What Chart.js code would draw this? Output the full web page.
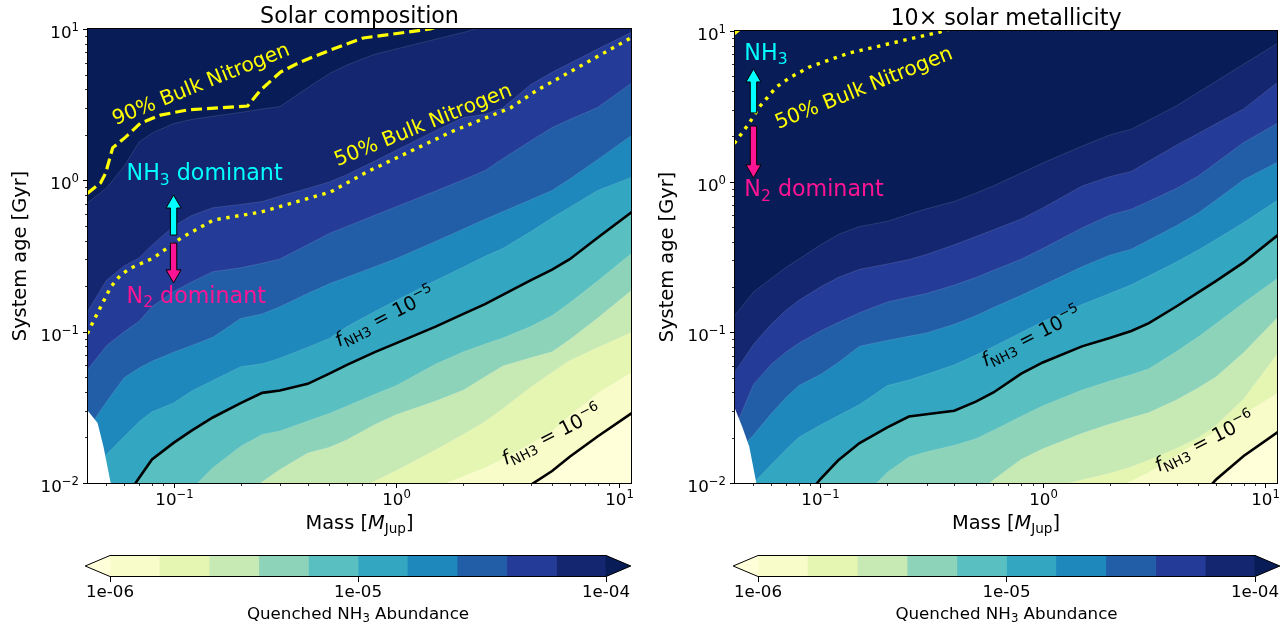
<!DOCTYPE html>
<html>
<head>
<meta charset="utf-8">
<title>Quenched NH3 abundance</title>
<script src="https://cdn.jsdelivr.net/npm/chart.js"></script>
<style>
  body { margin: 0; background: #fff; }
  #fig { position: relative; width: 1288px; height: 626px; overflow: hidden; }
  #fig canvas { position: absolute; }
</style>
</head>
<body>
<div id="fig">
  <canvas id="solar" width="644" height="540" style="left:0;top:0"></canvas>
  <canvas id="metal" width="644" height="540" style="left:644px;top:0"></canvas>
  <canvas id="solarBar" width="644" height="86" style="left:0;top:540px"></canvas>
  <canvas id="metalBar" width="644" height="86" style="left:644px;top:540px"></canvas>
</div>
<script>
/* =====================
   DATA
===================== */
// planet mass [M_Jup] shared by every contour trace
const massGrid = [0.041, 0.05, 0.06, 0.07, 0.08, 0.1, 0.12, 0.15, 0.2, 0.25, 0.3, 0.4, 0.5, 0.6, 0.8, 1, 1.5, 2, 2.5, 3, 4, 5, 6, 8, 11.4];

// quenched NH3 abundance of each contour
const levels = [1e-6, 1.58e-6, 2.51e-6, 3.98e-6, 6.31e-6, 1e-5, 1.58e-5, 2.51e-5, 3.98e-5, 6.31e-5, 1e-4];

// system age [Gyr] where the abundance hits each level, solar composition
const solarF60 = [0.0001, 0.0001, 0.0001, 0.0001, 0.0001, 0.0001, 0.0002, 0.0002, 0.0002, 0.0003, 0.0003, 0.0004, 0.0005, 0.0006, 0.0008, 0.001, 0.0015, 0.002, 0.003, 0.005, 0.0097, 0.012, 0.0149, 0.0203, 0.029];
const solarF58 = [0.0002, 0.0002, 0.0002, 0.0003, 0.0003, 0.0003, 0.0004, 0.0005, 0.0006, 0.0008, 0.001, 0.0013, 0.0017, 0.0022, 0.003, 0.004, 0.0094, 0.0111, 0.0126, 0.0144, 0.0181, 0.0221, 0.0279, 0.0392, 0.054];
const solarF56 = [0.0005, 0.0006, 0.0007, 0.0008, 0.0009, 0.001, 0.0012, 0.0015, 0.002, 0.0025, 0.003, 0.0045, 0.0065, 0.0082, 0.0103, 0.0121, 0.0166, 0.021, 0.0255, 0.031, 0.043, 0.0539, 0.0646, 0.0785, 0.0994];
const solarF54 = [0.001, 0.0012, 0.0015, 0.002, 0.0025, 0.0033, 0.0045, 0.006, 0.0081, 0.0102, 0.0123, 0.0158, 0.0172, 0.0193, 0.0244, 0.0284, 0.0348, 0.0411, 0.0504, 0.0594, 0.0673, 0.0737, 0.0888, 0.123, 0.188];
const solarF52 = [0.0019, 0.0025, 0.0032, 0.0041, 0.005, 0.0069, 0.0091, 0.0126, 0.0175, 0.0209, 0.0221, 0.0257, 0.0288, 0.0323, 0.0386, 0.0441, 0.0611, 0.0737, 0.0829, 0.0908, 0.108, 0.128, 0.155, 0.216, 0.331];
const solarF50 = [0.0036, 0.0053, 0.0077, 0.0108, 0.0143, 0.0184, 0.0221, 0.0271, 0.0337, 0.0394, 0.0408, 0.0452, 0.0528, 0.0603, 0.0732, 0.084, 0.108, 0.131, 0.152, 0.175, 0.218, 0.257, 0.301, 0.418, 0.617];
const solarF48 = [0.0105, 0.0155, 0.0203, 0.0254, 0.0296, 0.0338, 0.0404, 0.0476, 0.0587, 0.0614, 0.0668, 0.079, 0.0902, 0.108, 0.136, 0.161, 0.218, 0.268, 0.315, 0.355, 0.457, 0.566, 0.665, 0.857, 1.05];
const solarF46 = [0.0224, 0.0344, 0.0496, 0.0575, 0.0637, 0.0731, 0.0808, 0.0917, 0.122, 0.131, 0.146, 0.179, 0.207, 0.229, 0.269, 0.304, 0.395, 0.477, 0.553, 0.62, 0.745, 0.857, 1.02, 1.37, 1.99];
const solarF44 = [0.0557, 0.0808, 0.0997, 0.117, 0.146, 0.184, 0.212, 0.249, 0.264, 0.283, 0.302, 0.375, 0.446, 0.496, 0.588, 0.67, 0.85, 1.01, 1.16, 1.39, 1.82, 2.23, 2.52, 3.03, 4.4];
const solarF42 = [0.135, 0.219, 0.272, 0.307, 0.373, 0.497, 0.584, 0.659, 0.693, 0.724, 0.785, 0.884, 0.975, 1.09, 1.34, 1.58, 2.13, 2.6, 2.73, 3.01, 4.28, 5.17, 5.93, 7.37, 9.54];
const solarF40 = [0.708, 0.889, 1.24, 1.79, 2.05, 2.37, 2.52, 2.65, 2.81, 2.96, 3.07, 4.09, 5.07, 5.78, 6.81, 7.39, 8.56, 9.49, 10.4, 11.4, 13, 15, 17, 20, 25];

// same, 10x solar metallicity
const metalF60 = [0.0001, 0.0001, 0.0001, 0.0001, 0.0001, 0.0001, 0.0001, 0.0002, 0.0002, 0.0002, 0.0003, 0.0003, 0.0004, 0.0005, 0.0006, 0.0008, 0.001, 0.0015, 0.002, 0.003, 0.005, 0.0078, 0.0105, 0.0151, 0.0218];
const metalF58 = [0.0002, 0.0002, 0.0003, 0.0003, 0.0003, 0.0004, 0.0005, 0.0006, 0.0007, 0.0009, 0.0011, 0.0014, 0.0018, 0.0022, 0.0028, 0.0035, 0.0055, 0.0089, 0.0103, 0.0118, 0.0152, 0.0188, 0.022, 0.0287, 0.0396];
const metalF56 = [0.0004, 0.0005, 0.0006, 0.0007, 0.0007, 0.0009, 0.0011, 0.0014, 0.0018, 0.0022, 0.0027, 0.0035, 0.0045, 0.0055, 0.007, 0.009, 0.0105, 0.0116, 0.0128, 0.0142, 0.017, 0.02, 0.0241, 0.0363, 0.0727];
const metalF54 = [0.0006, 0.0007, 0.0008, 0.0009, 0.001, 0.0013, 0.0016, 0.002, 0.0028, 0.0035, 0.0045, 0.006, 0.0083, 0.0105, 0.0144, 0.0169, 0.0214, 0.0246, 0.0272, 0.0294, 0.0357, 0.0428, 0.0506, 0.0735, 0.126];
const metalF52 = [0.0013, 0.0017, 0.0021, 0.0026, 0.0031, 0.0042, 0.0056, 0.0077, 0.0118, 0.0149, 0.0161, 0.0178, 0.0197, 0.0224, 0.0277, 0.0326, 0.0414, 0.0475, 0.0524, 0.0574, 0.0748, 0.0934, 0.114, 0.157, 0.229];
const metalF50 = [0.0023, 0.0031, 0.0043, 0.0057, 0.0072, 0.0106, 0.0141, 0.0184, 0.0234, 0.0276, 0.0286, 0.0302, 0.0347, 0.0399, 0.0532, 0.0631, 0.0807, 0.0917, 0.102, 0.115, 0.149, 0.184, 0.219, 0.291, 0.442];
const metalF48 = [0.0066, 0.01, 0.0132, 0.0167, 0.0201, 0.0243, 0.0279, 0.0332, 0.0443, 0.0483, 0.0526, 0.0609, 0.0707, 0.0805, 0.0998, 0.118, 0.153, 0.181, 0.207, 0.237, 0.294, 0.352, 0.413, 0.535, 0.755];
const metalF46 = [0.0154, 0.0208, 0.0288, 0.037, 0.0443, 0.0525, 0.0629, 0.0809, 0.0884, 0.0942, 0.0991, 0.113, 0.129, 0.146, 0.176, 0.205, 0.272, 0.325, 0.356, 0.41, 0.511, 0.619, 0.754, 1.03, 1.35];
const metalF44 = [0.0225, 0.0451, 0.0612, 0.0739, 0.0847, 0.102, 0.116, 0.135, 0.159, 0.171, 0.181, 0.206, 0.231, 0.258, 0.306, 0.36, 0.493, 0.599, 0.656, 0.742, 0.904, 1.09, 1.33, 1.82, 2.45];
const metalF42 = [0.0539, 0.0831, 0.113, 0.14, 0.163, 0.2, 0.231, 0.262, 0.284, 0.304, 0.329, 0.381, 0.432, 0.479, 0.565, 0.669, 0.935, 1.08, 1.17, 1.37, 1.75, 2.09, 2.42, 3.04, 4.58];
const metalF40 = [0.128, 0.185, 0.227, 0.269, 0.306, 0.38, 0.445, 0.504, 0.545, 0.607, 0.66, 0.739, 0.839, 0.938, 1.14, 1.33, 1.72, 2.04, 2.23, 2.56, 3.19, 3.92, 4.62, 6.02, 8.31];

const solarAges = [solarF60, solarF58, solarF56, solarF54, solarF52, solarF50, solarF48, solarF46, solarF44, solarF42, solarF40];
const metalAges = [metalF60, metalF58, metalF56, metalF54, metalF52, metalF50, metalF48, metalF46, metalF44, metalF42, metalF40];

// bulk nitrogen fraction lines (mass, age)
const solar90Mass = [0.041, 0.047, 0.0496, 0.0533, 0.0609, 0.0711, 0.0874, 0.116, 0.215, 0.246, 0.302, 0.371, 0.506, 0.711, 1.42, 1.75];
const solar90Age = [0.82, 0.96, 1.12, 1.64, 1.93, 2.39, 2.7, 2.92, 3.1, 3.95, 5.2, 6.05, 7.26, 8.72, 10, 11.1];
const solar50Mass = [0.041, 0.0456, 0.0522, 0.0579, 0.0642, 0.0813, 0.108, 0.151, 0.246, 0.506, 0.741, 1.8, 3.25, 4.29, 11.4];
const solar50Age = [0.097, 0.133, 0.197, 0.237, 0.263, 0.307, 0.416, 0.547, 0.617, 0.837, 1.14, 2.12, 3.01, 3.95, 8.8];
const metal90Mass = [0.041, 0.0445];
const metal90Age = [9.6, 10.6];
const metal50Mass = [0.041, 0.0479, 0.0531, 0.0634, 0.0725, 0.0892, 0.135, 0.22, 0.344, 0.423];
const metal50Age = [1.79, 2.45, 3.13, 4.25, 4.88, 5.77, 7.15, 8.45, 9.85, 10.8];

// corner with no model data
const solarGapMass = [0.041, 0.0456, 0.0485, 0.0522, 0.0535];
const solarGapAge = [0.0303, 0.0249, 0.0173, 0.01, 0.008];
const metalGapMass = [0.041, 0.0445, 0.0479, 0.0515, 0.053];
const metalGapAge = [0.032, 0.0236, 0.0174, 0.01, 0.008];

// axes
const xTicks = [0.1, 1, 10];
const xTickExp = ['\u22121', '0', '1'];
const xMinor = [0.05, 0.06, 0.07, 0.08, 0.09, 0.2, 0.3, 0.4, 0.5, 0.6, 0.7, 0.8, 0.9, 2, 3, 4, 5, 6, 7, 8, 9];
const yTicks = [0.01, 0.1, 1, 10];
const yTickExp = ['\u22122', '\u22121', '0', '1'];
const yMinor = [0.02, 0.03, 0.04, 0.05, 0.06, 0.07, 0.08, 0.09, 0.2, 0.3, 0.4, 0.5, 0.6, 0.7, 0.8, 0.9, 2, 3, 4, 5, 6, 7, 8, 9];
const cbTicks = [1e-6, 1e-5, 1e-4];
const cbTickLabels = ['1e-06', '1e-05', '1e-04'];

/* =====================
   STYLE
===================== */
const FONT = '"DejaVu Sans"';
// YlGnBu: under, 10 bands, over
const BAND_COLORS = ['#ffffd9', '#f8fcc9', '#e5f5b2', '#c7e9b4', '#8dd3ba', '#5abfc0', '#33a7c2', '#1e87bb', '#225ea8', '#243c98', '#142670', '#081d58'];
const YELLOW = '#ffff00';
const CYAN = '#00ffff';
const PINK = '#ff1493';
const SEAM = 'rgba(255,255,255,0.2)';

Chart.defaults.font.family = FONT;

/* =====================
   TEXT + SHAPES
===================== */
function richText(ctx, parts, x, y, o) {
  const size = o.size;
  const fontOf = st => (st === 'it' ? 'italic ' : '') +
    (st === 'sub' || st === 'sup' ? size * 0.7 : size) + 'px ' + FONT;
  let w = 0;
  const widths = parts.map(p => {
    ctx.font = fontOf(p[1]);
    const pw = ctx.measureText(p[0]).width;
    w += pw;
    return pw;
  });
  ctx.save();
  ctx.translate(x, y);
  if (o.rot) ctx.rotate(o.rot * Math.PI / 180);
  ctx.fillStyle = o.color || '#000';
  ctx.textAlign = 'left';
  ctx.textBaseline = 'alphabetic';
  let cx = o.align === 'left' ? 0 : o.align === 'right' ? -w : -w / 2;
  parts.forEach((p, i) => {
    ctx.font = fontOf(p[1]);
    let dy = size * 0.365;
    if (p[1] === 'sub') dy += size * 0.2;
    if (p[1] === 'sup') dy -= size * 0.42;
    ctx.fillText(p[0], cx, dy);
    cx += widths[i];
  });
  ctx.restore();
}

function drawArrow(ctx, x, yTail, yTip, color) {
  const dir = Math.sign(yTip - yTail);
  const yBase = yTip - dir * 13;
  ctx.beginPath();
  ctx.moveTo(x - 3.2, yTail);
  ctx.lineTo(x - 3.2, yBase);
  ctx.lineTo(x - 7.5, yBase);
  ctx.lineTo(x, yTip);
  ctx.lineTo(x + 7.5, yBase);
  ctx.lineTo(x + 3.2, yBase);
  ctx.lineTo(x + 3.2, yTail);
  ctx.closePath();
  ctx.fillStyle = color;
  ctx.fill();
  ctx.lineWidth = 1;
  ctx.strokeStyle = '#000';
  ctx.stroke();
}

function seg(ctx, x0, y0, x1, y1, w) {
  ctx.lineWidth = w;
  ctx.beginPath();
  ctx.moveTo(x0, y0);
  ctx.lineTo(x1, y1);
  ctx.stroke();
}

const fLabel = k => [['f', 'it'], ['NH3', 'sub'], [' = 10'], ['\u2212' + k, 'sup']];
const NH3_DOM = [['NH'], ['3', 'sub'], [' dominant']];
const N2_DOM = [['N'], ['2', 'sub'], [' dominant']];

/* =====================
   PANELS
===================== */
function panelPlugin(deco) {
  return {
    id: 'panelDeco',
    beforeDatasetsDraw(chart) {
      const {ctx, chartArea: a} = chart;
      ctx.save();
      ctx.fillStyle = BAND_COLORS[0];
      ctx.fillRect(a.left, a.top, a.right - a.left, a.bottom - a.top);
      ctx.restore();
    },
    afterDraw(chart) {
      const {ctx, chartArea: a} = chart;
      const xs = chart.scales.x, ys = chart.scales.y;
      ctx.save();
      deco.arrows.forEach(ar => drawArrow(ctx, xs.getPixelForValue(ar.mass),
        ys.getPixelForValue(ar.from), ys.getPixelForValue(ar.to), ar.color));
      deco.labels.forEach(l => richText(ctx, l.parts,
        xs.getPixelForValue(l.mass), ys.getPixelForValue(l.age), l));

      ctx.strokeStyle = '#000';
      ctx.lineWidth = 1;
      ctx.strokeRect(a.left - 0.5, a.top - 0.5, a.right - a.left + 1, a.bottom - a.top + 1);

      xTicks.forEach((v, i) => {
        const p = Math.round(xs.getPixelForValue(v)) + 0.5;
        seg(ctx, p, a.bottom, p, a.bottom + 5, 1);
        richText(ctx, [['10'], [xTickExp[i], 'sup']], p, a.bottom + 16, {size: 16.7});
      });
      xMinor.forEach(v => {
        const p = Math.round(xs.getPixelForValue(v)) + 0.5;
        seg(ctx, p, a.bottom, p, a.bottom + 3, 0.8);
      });
      yTicks.forEach((v, i) => {
        const p = Math.round(ys.getPixelForValue(v)) + 0.5;
        seg(ctx, a.left, p, a.left - 5, p, 1);
        richText(ctx, [['10'], [yTickExp[i], 'sup']], a.left - 9, p + 2, {size: 16.7, align: 'right'});
      });
      yMinor.forEach(v => {
        const p = Math.round(ys.getPixelForValue(v)) + 0.5;
        seg(ctx, a.left, p, a.left - 3, p, 0.8);
      });

      const cx = (a.left + a.right) / 2;
      richText(ctx, deco.title, cx, a.top - 14, {size: 22.2});
      richText(ctx, [['Mass ['], ['M', 'it'], ['Jup', 'sub'], [']']], cx, a.bottom + 39, {size: 19.4});
      richText(ctx, [['System age [Gyr]']], a.left - 69, (a.top + a.bottom) / 2, {size: 19.4, rot: -90});
      ctx.restore();
    }
  };
}

const pts = (xs, ys) => xs.map((x, i) => ({x: x, y: ys[i]}));

function makePanel(id, box, ages, bulk, gap, deco) {
  const seq = [];
  ages.forEach((row, i) => seq.push({
    data: pts(massGrid, row), fill: 'end', backgroundColor: BAND_COLORS[i + 1],
    borderColor: SEAM, borderWidth: 0.6
  }));
  seq.push({data: pts(gap.mass, gap.age), fill: 'start', backgroundColor: '#ffffff', borderWidth: 0});
  [0, 5].forEach(k => seq.push({data: pts(massGrid, ages[k]), borderColor: '#000', borderWidth: 2.6}));
  bulk.forEach(b => seq.push({
    data: pts(b.mass, b.age), borderColor: YELLOW, borderWidth: b.width, borderDash: b.dash
  }));
  seq.forEach((d, i) => Object.assign(d, {
    order: seq.length - i, pointRadius: 0, tension: 0, clip: 0, fill: d.fill || false
  }));

  const canvas = document.getElementById(id);
  return new Chart(canvas, {
    type: 'line',
    data: {datasets: seq},
    options: {
      responsive: false, animation: false, events: [], devicePixelRatio: 1,
      layout: {padding: {top: box.top, right: canvas.width - box.right, left: 0, bottom: 0}},
      plugins: {legend: {display: false}, tooltip: {enabled: false}},
      scales: {
        x: {
          type: 'logarithmic', min: 0.0413, max: 11.3,
          ticks: {display: false}, grid: {display: false}, border: {display: false},
          afterFit: s => { s.height = canvas.height - box.bottom; }
        },
        y: {
          type: 'logarithmic', min: 0.01, max: 10,
          ticks: {display: false}, grid: {display: false}, border: {display: false},
          afterFit: s => { s.width = box.left; }
        }
      }
    },
    plugins: [panelPlugin(deco)]
  });
}

/* =====================
   COLORBARS
===================== */
function barPlugin() {
  return {
    id: 'barDeco',
    afterDraw(chart) {
      const {ctx, chartArea: a} = chart;
      const ext = (a.right - a.left) * 0.05;
      const mid = (a.top + a.bottom) / 2;
      ctx.save();
      ctx.beginPath();
      ctx.moveTo(a.left + 0.5, a.top);
      ctx.lineTo(a.left - ext, mid);
      ctx.lineTo(a.left + 0.5, a.bottom);
      ctx.closePath();
      ctx.fillStyle = BAND_COLORS[0];
      ctx.fill();
      ctx.beginPath();
      ctx.moveTo(a.right - 0.5, a.top);
      ctx.lineTo(a.right + ext, mid);
      ctx.lineTo(a.right - 0.5, a.bottom);
      ctx.closePath();
      ctx.fillStyle = BAND_COLORS[11];
      ctx.fill();

      ctx.beginPath();
      ctx.moveTo(a.left, a.top + 0.5);
      ctx.lineTo(a.right, a.top + 0.5);
      ctx.lineTo(a.right + ext, mid);
      ctx.lineTo(a.right, a.bottom - 0.5);
      ctx.lineTo(a.left, a.bottom - 0.5);
      ctx.lineTo(a.left - ext, mid);
      ctx.closePath();
      ctx.strokeStyle = '#000';
      ctx.lineWidth = 1;
      ctx.stroke();

      richText(ctx, [['Quenched NH'], ['3', 'sub'], [' Abundance']],
        (a.left + a.right) / 2, a.bottom + 36, {size: 16.7});
      ctx.restore();
    }
  };
}

function makeBar(id, box) {
  const canvas = document.getElementById(id);
  const sets = levels.slice(0, -1).map((lo, i) => ({
    data: [[lo, levels[i + 1]]], backgroundColor: BAND_COLORS[i + 1], borderWidth: 0,
    barPercentage: 1, categoryPercentage: 1, grouped: false
  }));
  return new Chart(canvas, {
    type: 'bar',
    data: {labels: [''], datasets: sets},
    options: {
      indexAxis: 'y', responsive: false, animation: false, events: [], devicePixelRatio: 1,
      layout: {padding: {left: box.left, right: canvas.width - box.right, top: box.top, bottom: 0}},
      plugins: {legend: {display: false}, tooltip: {enabled: false}},
      scales: {
        x: {
          type: 'logarithmic', min: 1e-6, max: 1e-4,
          afterBuildTicks: s => { s.ticks = cbTicks.map(v => ({value: v})); },
          ticks: {
            callback: (v, i) => cbTickLabels[i], autoSkip: false, maxRotation: 0,
            color: '#000', padding: 1, font: {family: FONT, size: 16.7}
          },
          grid: {drawOnChartArea: false, tickLength: 5, tickColor: '#000', tickWidth: 1},
          border: {display: false},
          afterFit: s => { s.height = canvas.height - box.bottom; }
        },
        y: {display: false}
      }
    },
    plugins: [barPlugin()]
  });
}

/* =====================
   MAIN
===================== */
makePanel('solar', {left: 88, right: 631, top: 29, bottom: 483}, solarAges, [
  {mass: solar90Mass, age: solar90Age, width: 3.2, dash: [11, 5]},
  {mass: solar50Mass, age: solar50Age, width: 3.4, dash: [3.4, 5.6]}
], {mass: solarGapMass, age: solarGapAge}, {
  title: [['Solar composition']],
  labels: [
    {parts: [['90% Bulk Nitrogen']], mass: 0.132, age: 4.4, rot: -22, size: 20.3, color: YELLOW},
    {parts: [['50% Bulk Nitrogen']], mass: 1.31, age: 2.36, rot: -22, size: 20.3, color: YELLOW},
    {parts: NH3_DOM, mass: 0.0615, age: 1.135, align: 'left', size: 22.2, color: CYAN},
    {parts: N2_DOM, mass: 0.0615, age: 0.175, align: 'left', size: 22.2, color: PINK},
    {parts: fLabel('5'), mass: 0.884, age: 0.127, rot: -27, size: 19.4},
    {parts: fLabel('6'), mass: 4.95, age: 0.021, rot: -27, size: 19.4}
  ],
  arrows: [
    {mass: 0.1, from: 0.435, to: 0.8, color: CYAN},
    {mass: 0.1, from: 0.385, to: 0.21, color: PINK}
  ]
});

makePanel('metal', {left: 91, right: 633, top: 31, bottom: 483}, metalAges, [
  {mass: metal90Mass, age: metal90Age, width: 3.2, dash: [11, 5]},
  {mass: metal50Mass, age: metal50Age, width: 3.4, dash: [3.4, 5.6]}
], {mass: metalGapMass, age: metalGapAge}, {
  title: [['10\u00d7 solar metallicity']],
  labels: [
    {parts: [['50% Bulk Nitrogen']], mass: 0.156, age: 4.27, rot: -22, size: 20.3, color: YELLOW},
    {parts: [['NH'], ['3', 'sub']], mass: 0.0455, age: 7.26, align: 'left', size: 22.2, color: CYAN},
    {parts: N2_DOM, mass: 0.0455, age: 0.908, align: 'left', size: 22.2, color: PINK},
    {parts: fLabel('5'), mass: 0.883, age: 0.0946, rot: -27, size: 19.4},
    {parts: fLabel('6'), mass: 5.31, age: 0.019, rot: -27, size: 19.4}
  ],
  arrows: [
    {mass: 0.05, from: 2.86, to: 5.6, color: CYAN},
    {mass: 0.05, from: 2.34, to: 1.06, color: PINK}
  ]
});

makeBar('solarBar', {left: 110, right: 606, top: 15, bottom: 37});
makeBar('metalBar', {left: 114, right: 611, top: 15, bottom: 37});
</script>
</body>
</html>
